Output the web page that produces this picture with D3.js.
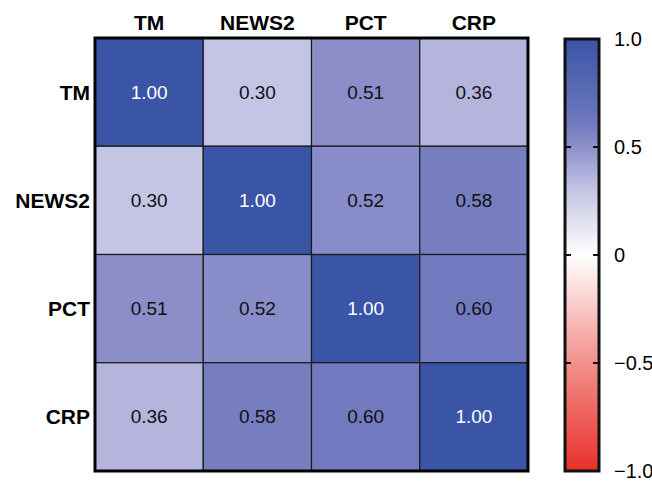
<!DOCTYPE html>
<html><head><meta charset="utf-8">
<script src="https://cdn.jsdelivr.net/npm/d3@7"></script>
<style>body{margin:0;background:#fff}svg{display:block}text{font-family:Arial,"Liberation Sans",sans-serif}</style>
</head><body>
<script>
const labels = ["TM","NEWS2","PCT","CRP"];
const matrix = [
  [1.00,0.30,0.51,0.36],
  [0.30,1.00,0.52,0.58],
  [0.51,0.52,1.00,0.60],
  [0.36,0.58,0.60,1.00]
];
const legendTicks = [1.0,0.5,0,-0.5,-1.0];
const legendTickLabels = ["1.0","0.5","0","\u22120.5","\u22121.0"];

const W=652,H=481;
const svg=d3.select("body").append("svg").attr("width",W).attr("height",H);
const x0=95,x1=528,y0=38,y1=471;
const x=d3.scaleBand().domain(labels).range([x0,x1]);
const y=d3.scaleBand().domain(labels).range([y0,y1]);
const color=d3.scaleLinear()
  .domain([-1,-0.5,0,0.3,0.5,0.6,1])
  .range(["#e8302a","#f2908c","#ffffff","#c4c4e4","#8e90ca","#717abe","#3a54a6"])
  .interpolate(d3.interpolateRgb).clamp(true);

const cells=[];
matrix.forEach((row,i)=>row.forEach((v,j)=>cells.push({r:labels[i],c:labels[j],v})));
const g=svg.append("g");
g.selectAll("rect").data(cells).join("rect")
  .attr("x",d=>x(d.c)).attr("y",d=>y(d.r))
  .attr("width",x.bandwidth()).attr("height",y.bandwidth())
  .attr("fill",d=>color(d.v)).attr("stroke","#1a1a1a").attr("stroke-width",1.2);
g.selectAll("text").data(cells).join("text")
  .attr("x",d=>x(d.c)+x.bandwidth()/2).attr("y",d=>y(d.r)+y.bandwidth()/2)
  .attr("text-anchor","middle").attr("dominant-baseline","central")
  .attr("font-size",19).attr("fill",d=>d.v>0.8?"#fff":"#111")
  .text(d=>d.v.toFixed(2));
svg.append("rect").attr("x",x0).attr("y",y0).attr("width",x1-x0).attr("height",y1-y0)
  .attr("fill","none").attr("stroke","#000").attr("stroke-width",3);

svg.append("g").selectAll("text").data(labels).join("text")
  .attr("x",d=>x(d)+x.bandwidth()/2).attr("y",30)
  .attr("text-anchor","middle").attr("font-size",21).attr("font-weight","bold").text(d=>d);
svg.append("g").selectAll("text").data(labels).join("text")
  .attr("x",90).attr("y",d=>y(d)+y.bandwidth()/2)
  .attr("text-anchor","end").attr("dominant-baseline","central")
  .attr("font-size",21).attr("font-weight","bold").text(d=>d);

// color bar
const cx0=565,cx1=599,cy0=39,cy1=471;
const ly=d3.scaleLinear().domain([1,-1]).range([cy0,cy1]);
const defs=svg.append("defs");
const grad=defs.append("linearGradient").attr("id","cb").attr("x1",0).attr("y1",0).attr("x2",0).attr("y2",1);
d3.range(0,21).forEach(k=>{
  const v=1-k*0.1;
  grad.append("stop").attr("offset",(k/20)).attr("stop-color",color(v));
});
svg.append("rect").attr("x",cx0).attr("y",cy0).attr("width",cx1-cx0).attr("height",cy1-cy0)
  .attr("fill","url(#cb)").attr("stroke","#111").attr("stroke-width",3);
const tg=svg.append("g");
tg.selectAll("line.l").data(legendTicks.filter(t=>Math.abs(t)<1)).join("line")
  .attr("x1",cx0).attr("x2",cx0+6).attr("y1",d=>ly(d)).attr("y2",d=>ly(d))
  .attr("stroke","#111").attr("stroke-width",2);
tg.selectAll("line.r").data(legendTicks.filter(t=>Math.abs(t)<1)).join("line")
  .attr("x1",cx1-6).attr("x2",cx1).attr("y1",d=>ly(d)).attr("y2",d=>ly(d))
  .attr("stroke","#111").attr("stroke-width",2);
tg.selectAll("text").data(legendTicks).join("text")
  .attr("x",614).attr("y",d=>ly(d)).attr("dominant-baseline","central")
  .attr("font-size",20).text((d,i)=>legendTickLabels[i]);
</script>
</body></html>
